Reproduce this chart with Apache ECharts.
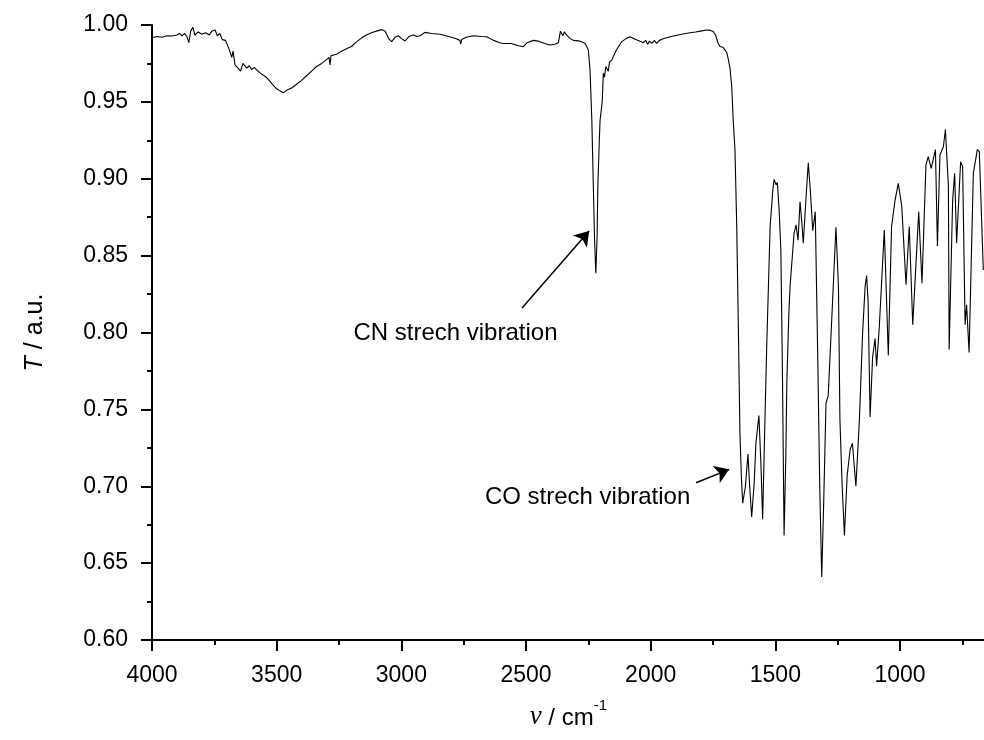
<!DOCTYPE html>
<html>
<head>
<meta charset="utf-8">
<script src="https://cdn.jsdelivr.net/npm/echarts@6/dist/echarts.min.js"></script>
<style>
html,body{margin:0;padding:0;background:#fff;}
#chart{width:984px;height:740px;}
</style>
</head>
<body>
<div id="chart"></div>
<script>
// Wavenumbers (cm^-1)
const wavenumbers = [
4000,3980,3960,3940,3920,3900,3890,3880,3870,3860,3852,3845,3836,3828,3815,3800,3785,3770,3760,3747,3738,3728,3718,3705,3690,3680,3675,3667,3655,3645,3635,3627,3620,3610,3600,3590,3575,3560,3545,3530,3515,3500,3485,3473,3460,3440,3420,3400,3380,3360,3340,3320,3300,3290,3286,3282,3260,3240,3220,3200,3180,3160,3140,3120,3100,3079,3065,3050,3039,3025,3012,2998,2985,2970,2952,2938,2925,2905,2880,2845,2810,2780,2765,2762,2758,2740,2711,2680,2658,2630,2605,2591,2560,2530,2511,2495,2471,2450,2425,2404,2385,2370,2362,2357,2352,2346,2340,2332,2324,2310,2290,2275,2263,2250,2243,2236,2230,2225,2220,2215,2212,2206,2203,2198,2194,2192,2190,2185,2180,2176,2170,2165,2156,2150,2140,2136,2125,2116,2100,2083,2060,2040,2030,2020,2012,2005,1995,1985,1976,1965,1950,1922,1890,1855,1820,1795,1775,1760,1749,1740,1729,1722,1710,1702,1695,1689,1682,1675,1669,1662,1655,1649,1642,1636,1631,1620,1610,1603,1595,1585,1578,1566,1558,1551,1543,1535,1521,1510,1505,1497,1492,1485,1478,1472,1465,1458,1454,1446,1441,1434,1425,1417,1409,1401,1394,1388,1378,1368,1360,1350,1340,1330,1322,1314,1306,1297,1288,1274,1257,1247,1241,1232,1223,1212,1200,1191,1177,1163,1150,1140,1134,1128,1120,1110,1100,1094,1083,1063,1047,1034,1020,1007,993,976,963,949,925,912,896,887,875,858,850,840,826,818,806,803,789,781,773,757,749,739,733,723,706,690,682,676,666
];
// Transmittance values matching the wavenumbers above
const transmittance = [
0.9917,0.9925,0.9920,0.9930,0.9928,0.9935,0.9945,0.9930,0.9945,0.9925,0.9885,0.9960,0.9985,0.9935,0.9955,0.9940,0.9950,0.9935,0.9960,0.9967,0.9930,0.9945,0.9905,0.9900,0.9840,0.9790,0.9830,0.9740,0.9720,0.9700,0.9750,0.9760,0.9720,0.9735,0.9710,0.9725,0.9700,0.9680,0.9665,0.9640,0.9610,0.9585,0.9570,0.9560,0.9575,0.9590,0.9615,0.9640,0.9670,0.9700,0.9730,0.9750,0.9775,0.9790,0.9740,0.9800,0.9810,0.9830,0.9845,0.9860,0.9890,0.9915,0.9935,0.9950,0.9960,0.9970,0.9960,0.9910,0.9892,0.9920,0.9930,0.9910,0.9896,0.9925,0.9935,0.9925,0.9930,0.9952,0.9945,0.9940,0.9925,0.9910,0.9900,0.9875,0.9905,0.9920,0.9930,0.9925,0.9924,0.9900,0.9885,0.9880,0.9880,0.9865,0.9859,0.9885,0.9900,0.9895,0.9880,0.9870,0.9875,0.9885,0.9960,0.9967,0.9930,0.9955,0.9940,0.9950,0.9913,0.9900,0.9897,0.9890,0.9880,0.9837,0.9700,0.9380,0.8950,0.8600,0.8385,0.8620,0.8950,0.9250,0.9380,0.9450,0.9510,0.9600,0.9686,0.9660,0.9730,0.9729,0.9700,0.9760,0.9772,0.9780,0.9830,0.9837,0.9870,0.9892,0.9910,0.9924,0.9905,0.9892,0.9885,0.9900,0.9875,0.9895,0.9880,0.9900,0.9880,0.9900,0.9910,0.9924,0.9935,0.9946,0.9955,0.9962,0.9967,0.9965,0.9957,0.9935,0.9880,0.9860,0.9855,0.9837,0.9820,0.9780,0.9720,0.9600,0.9380,0.9190,0.8700,0.8100,0.7344,0.7050,0.6890,0.7000,0.7210,0.7000,0.6800,0.7020,0.7280,0.7460,0.7150,0.6785,0.7350,0.7890,0.8690,0.8930,0.8996,0.8960,0.8975,0.8800,0.8540,0.7800,0.6680,0.7200,0.7670,0.8120,0.8300,0.8310,0.8645,0.8700,0.8600,0.8850,0.8720,0.8580,0.8850,0.9104,0.8930,0.8662,0.8786,0.7840,0.7000,0.6410,0.6900,0.7540,0.7590,0.8080,0.8684,0.8300,0.7430,0.7000,0.6680,0.7070,0.7240,0.7280,0.7000,0.7430,0.8000,0.8300,0.8370,0.8200,0.7450,0.7840,0.7960,0.7780,0.8040,0.8667,0.7850,0.8688,0.8860,0.8970,0.8820,0.8310,0.8690,0.8050,0.8786,0.8320,0.9090,0.9144,0.9068,0.9190,0.8563,0.9155,0.9210,0.9320,0.8950,0.7890,0.8860,0.9035,0.8580,0.9110,0.9080,0.8050,0.8180,0.7870,0.9035,0.9190,0.9176,0.9187,0.8407
];
// Tick label values
const xTickValues = [4000,3500,3000,2500,2000,1500,1000];
const yTickValues = [0.60,0.65,0.70,0.75,0.80,0.85,0.90,0.95,1.00];
// Annotations: text, text anchor [wavenumber, T], arrow tail, arrow head
const annotationTexts = ['CN strech vibration','CO strech vibration'];
const annotationAnchors = [[2783,0.7992],[2253,0.6930]];
const arrowTails = [[2516,0.816],[1818,0.7023]];
const arrowHeads = [[2247,0.866],[1685,0.711]];

const seriesData = wavenumbers.map((w,i)=>[w, transmittance[i]]);
const FONT = '"Liberation Sans", Arial, sans-serif';

const chart = echarts.init(document.getElementById('chart'), null, {renderer:'canvas'});
chart.setOption({
  animation:false,
  backgroundColor:'#fff',
  grid:{left:152, width:872.7, top:25, height:615, containLabel:false, outerBoundsMode:'none'},
  xAxis:{
    type:'value', inverse:true, min:500, max:4000, interval:500,
    name:'{i|ν}{n| / cm}{s|-1}',
    nameLocation:'middle', nameGap:58,
    nameTextStyle:{
      padding:[0,40,0,0],
      rich:{
        i:{fontFamily:'"Liberation Serif", serif', fontStyle:'italic', fontSize:27, color:'#000', lineHeight:32, verticalAlign:'bottom'},
        n:{fontFamily:FONT, fontSize:24, color:'#000', lineHeight:32, verticalAlign:'bottom'},
        s:{fontFamily:FONT, fontSize:15, color:'#000', lineHeight:15, verticalAlign:'top'}
      }
    },
    axisLine:{show:true, onZero:false, lineStyle:{color:'#000', width:2}},
    axisTick:{show:true, inside:false, length:11, lineStyle:{color:'#000', width:2}},
    minorTick:{show:true, splitNumber:2, length:5, lineStyle:{color:'#000', width:2}},
    splitLine:{show:false},
    axisLabel:{
      margin:24, fontFamily:FONT, fontSize:23, color:'#000',
      formatter:function(v){ return xTickValues.indexOf(v)>=0 ? String(v) : ''; }
    }
  },
  yAxis:{
    type:'value', min:0.6, max:1.0, interval:0.05,
    name:'{i|T}{n| / a.u.}',
    nameLocation:'middle', nameGap:104, nameRotate:90,
    nameTextStyle:{
      rich:{
        i:{fontFamily:FONT, fontStyle:'italic', fontSize:25, color:'#000'},
        n:{fontFamily:FONT, fontSize:25, color:'#000'}
      }
    },
    axisLine:{show:true, onZero:false, lineStyle:{color:'#000', width:2}},
    axisTick:{show:true, inside:false, length:11, lineStyle:{color:'#000', width:2}},
    minorTick:{show:true, splitNumber:2, length:5, lineStyle:{color:'#000', width:2}},
    splitLine:{show:false},
    axisLabel:{
      margin:24, fontFamily:FONT, fontSize:23, color:'#000',
      formatter:function(v){
        const hit = yTickValues.find(t=>Math.abs(t-v)<1e-6);
        return hit!==undefined ? hit.toFixed(2) : '';
      }
    }
  },
  series:[{
    type:'line',
    data:seriesData,
    showSymbol:false,
    symbol:'none',
    smooth:false,
    clip:true,
    lineStyle:{color:'#000', width:1.1},
    markLine:{
      silent:true,
      symbol:['none','arrow'],
      symbolSize:14,
      label:{show:false},
      lineStyle:{color:'#000', width:1.5, type:'solid'},
      data: arrowTails.map((t,i)=>[{coord:t},{coord:arrowHeads[i]}])
    },
    markPoint:{
      silent:true,
      symbol:'circle',
      symbolSize:0,
      data: annotationTexts.map((txt,i)=>({
        coord:annotationAnchors[i],
        label:{show:true, position:'inside', formatter:txt, fontFamily:FONT, fontSize:24, color:'#000'}
      }))
    }
  }]
});
</script>
</body>
</html>
